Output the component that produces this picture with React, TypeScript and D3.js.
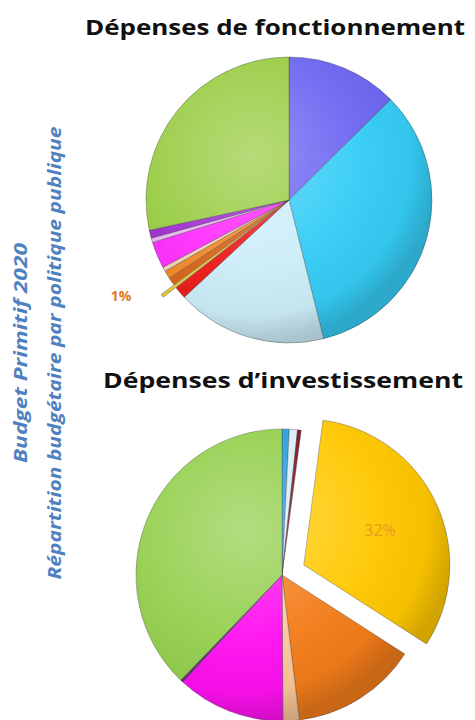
import React from "react";
import * as d3 from "d3";

// Dépenses de fonctionnement (%), clockwise from 12 o'clock
const fonctCategories = [
  "Politique A", "Politique B", "Politique C", "Politique D", "Politique E",
  "Politique F", "Politique G", "Politique H", "Politique I", "Politique J",
  "Politique K", "Politique L",
];
const fonctValues = [12.6, 33.5, 17, 1.4, 0.4, 0.9, 0.9, 0.5, 3.0, 0.5, 0.9, 28.4];
const fonctColors = [
  "#6d66f2", "#35cdf6", "#cdeefa", "#ee1c1c", "#e8c838", "#d9661a",
  "#f08a2a", "#f6d0b8", "#ff2eff", "#e9b8f0", "#a030d0", "#9acd45",
];
const fonctExploded = "Politique E";
const fonctLabel = "1%";

// Dépenses d'investissement (%), clockwise from 12 o'clock
const investCategories = [
  "Politique A", "Politique B", "Politique C", "Politique D", "Politique E",
  "Politique F", "Politique G", "Politique H", "Politique I",
];
const investValues = [0.8, 0.9, 0.4, 32, 14, 1.8, 12, 0.3, 37.8];
const investColors = [
  "#2e9fd8", "#d8eef8", "#80101e", "#ffc800", "#f47d1a", "#fcc89a",
  "#ff10f0", "#6a2a80", "#95d04f",
];
const investExploded = "Politique D";
const investLabel = "32%";

type PieProps = {
  id: string;
  categories: string[];
  values: number[];
  colors: string[];
  cx: number;
  cy: number;
  r: number;
  exploded: string;
  explode: number;
  label: string;
  labelRadius: number;
  labelColor: string;
  labelSize: number;
  labelWeight: number;
  labelDx: number;
  labelDy: number;
};

function Pie(p: PieProps) {
  const data = p.categories.map((c, i) => ({ cat: c, value: p.values[i], color: p.colors[i] }));
  const pie = d3.pie<any>().sort(null).value((d) => d.value);
  const arcs = pie(data);
  const arc = d3.arc<any>().innerRadius(0).outerRadius(p.r);
  const labelArc = d3.arc<any>().innerRadius(p.labelRadius).outerRadius(p.labelRadius);
  const gid = `gloss-${p.id}`;
  return (
    <g transform={`translate(${p.cx},${p.cy})`}>
      <defs>
        <radialGradient id={gid} gradientUnits="userSpaceOnUse" cx={-p.r * 0.25} cy={-p.r * 0.3} r={p.r * 1.3}>
          <stop offset="0" stopColor="#ffffff" stopOpacity={0.28} />
          <stop offset="0.55" stopColor="#ffffff" stopOpacity={0.05} />
          <stop offset="0.85" stopColor="#000000" stopOpacity={0.04} />
          <stop offset="1" stopColor="#000000" stopOpacity={0.18} />
        </radialGradient>
      </defs>
      {arcs.map((a, i) => {
        const mid = (a.startAngle + a.endAngle) / 2;
        const off = a.data.cat === p.exploded ? p.explode : 0;
        const tx = Math.sin(mid) * off;
        const ty = -Math.cos(mid) * off;
        return (
          <g key={i} transform={`translate(${tx},${ty})`}>
            <path d={arc(a) as string} fill={a.data.color} stroke="rgba(60,60,60,0.45)" strokeWidth={0.8} />
            <path d={arc(a) as string} fill={`url(#${gid})`} stroke="none" />
          </g>
        );
      })}
      {arcs
        .filter((a) => a.data.cat === p.exploded)
        .map((a, i) => {
          const [lx, ly] = labelArc.centroid(a);
          return (
            <text
              key={i}
              x={lx + p.labelDx}
              y={ly + p.labelDy}
              textAnchor="middle"
              dominantBaseline="central"
              fontFamily="'Open Sans', 'Noto Sans', sans-serif"
              fontSize={p.labelSize}
              fontWeight={p.labelWeight}
              fill={p.labelColor}
            >
              {p.label}
            </text>
          );
        })}
    </g>
  );
}

export default function App() {
  const W = 475;
  const H = 720;
  const titleFont = "'Open Sans', 'Noto Sans', sans-serif";
  const sideFont = "'Open Sans', 'Noto Sans', sans-serif";
  return (
    <svg width={W} height={H} style={{ position: "absolute", left: 0, top: 0, background: "#fff" }}>
      <text x={275} y={35} textAnchor="middle" fontFamily={titleFont} fontWeight={700} fontSize={21}
        textLength={380} lengthAdjust="spacingAndGlyphs" fill="#111">
        Dépenses de fonctionnement
      </text>
      <text x={283} y={388} textAnchor="middle" fontFamily={titleFont} fontWeight={700} fontSize={21}
        textLength={360} lengthAdjust="spacingAndGlyphs" fill="#111">
        Dépenses d’investissement
      </text>

      <g transform="translate(27,353) rotate(-90)">
        <text textAnchor="middle" fontFamily={sideFont} fontStyle="italic" fontWeight={700} fontSize={18}
          textLength={220} lengthAdjust="spacingAndGlyphs" fill="#4f81c0">
          Budget Primitif 2020
        </text>
      </g>
      <g transform="translate(61,353) rotate(-90)">
        <text textAnchor="middle" fontFamily={sideFont} fontStyle="italic" fontWeight={700} fontSize={18}
          textLength={453} lengthAdjust="spacingAndGlyphs" fill="#4f81c0">
          Répartition budgétaire par politique publique
        </text>
      </g>

      <Pie id="fonct" categories={fonctCategories} values={fonctValues} colors={fonctColors}
        cx={289} cy={200} r={143} exploded={fonctExploded} explode={16}
        label={fonctLabel} labelRadius={178} labelColor="#e07a28" labelSize={14} labelWeight={700}
        labelDx={-26} labelDy={-12} />
      <Pie id="invest" categories={investCategories} values={investValues} colors={investColors}
        cx={282} cy={575} r={146} exploded={investExploded} explode={24}
        label={investLabel} labelRadius={108} labelColor="#e89a20" labelSize={16} labelWeight={400}
        labelDx={0} labelDy={0} />
    </svg>
  );
}
